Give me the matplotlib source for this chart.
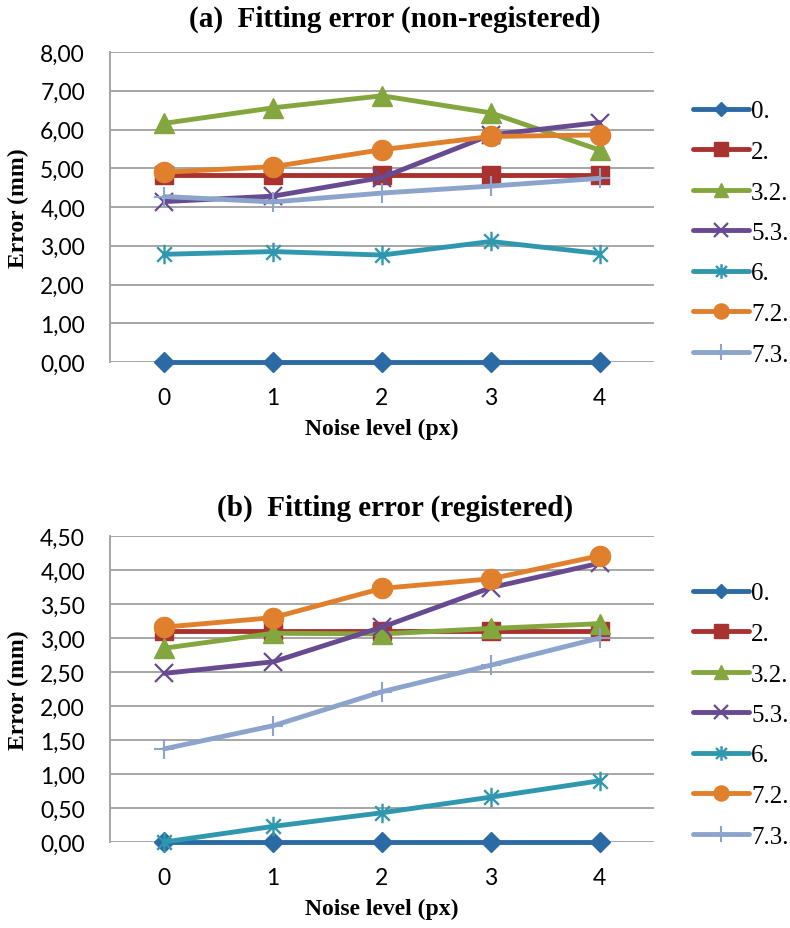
"""Fitting error vs. noise level, non-registered and registered."""

import matplotlib
matplotlib.use("Agg")
import matplotlib.pyplot as plt
from matplotlib.path import Path
from matplotlib.ticker import FuncFormatter

noise_levels = [0, 1, 2, 3, 4]
series_names = ["0.", "2.", "3.2.", "5.3.", "6.", "7.2.", "7.3."]

err_nonreg = {
    "0.": [0.00, 0.00, 0.00, 0.00, 0.00],
    "2.": [4.82, 4.82, 4.82, 4.82, 4.82],
    "3.2.": [6.16, 6.56, 6.87, 6.43, 5.47],
    "5.3.": [4.14, 4.28, 4.76, 5.86, 6.18],
    "6.": [2.78, 2.85, 2.76, 3.11, 2.80],
    "7.2.": [4.90, 5.04, 5.48, 5.82, 5.86],
    "7.3.": [4.27, 4.13, 4.36, 4.54, 4.74],
}

err_reg = {
    "0.": [0.00, 0.00, 0.00, 0.00, 0.00],
    "2.": [3.10, 3.10, 3.10, 3.10, 3.10],
    "3.2.": [2.85, 3.07, 3.06, 3.14, 3.21],
    "5.3.": [2.48, 2.65, 3.16, 3.74, 4.10],
    "6.": [0.00, 0.23, 0.43, 0.66, 0.90],
    "7.2.": [3.16, 3.30, 3.73, 3.87, 4.21],
    "7.3.": [1.37, 1.71, 2.21, 2.60, 3.00],
}

colors = ["#2C6AA4", "#A83230", "#84A63E", "#684A90", "#3098AE", "#E0802C", "#8CA4CC"]

# asterisk marker: vertical bar plus an X
star = Path(
    [(0, -1), (0, 1), (-0.75, -0.75), (0.75, 0.75), (-0.75, 0.75), (0.75, -0.75)],
    [Path.MOVETO, Path.LINETO, Path.MOVETO, Path.LINETO, Path.MOVETO, Path.LINETO],
)
marker_styles = [
    dict(marker="D", ms=10),
    dict(marker="s", ms=13.5),
    dict(marker="^", ms=14),
    dict(marker="x", ms=13, mew=1.6),
    dict(marker=star, ms=14, mew=1.7),
    dict(marker="o", ms=14.5),
    dict(marker="+", ms=15, mew=1.5),
]

serif = "Liberation Serif"
tick_font = "Lato"
grid_col = "#A6A6A6"

fig = plt.figure(figsize=(7.9, 9.29), dpi=100)
ax_a = fig.add_axes([110 / 790, 1 - 363 / 929, 544 / 790, 310 / 929])
ax_b = fig.add_axes([110 / 790, 1 - 843 / 929, 544 / 790, 306 / 929])

panels = [
    (ax_a, err_nonreg, 8.0, 1.0, "(a)  Fitting error (non-registered)", 19, 101),
    (ax_b, err_reg, 4.5, 0.5, "(b)  Fitting error (registered)", 508, 583),
]

comma_fmt = FuncFormatter(lambda v, _: f"{v:.2f}".replace(".", ","))

for ax, data, ymax, ystep, title, title_y, leg_top in panels:
    for name, col, ms in zip(series_names, colors, marker_styles):
        ax.plot(noise_levels, data[name], color=col, lw=3.5, label=name,
                mfc=col, mec=col, solid_capstyle="round", clip_on=False, **ms)

    ax.set_xlim(-0.5, 4.5)
    ax.set_ylim(0, ymax)
    ax.set_xticks(noise_levels)
    n = int(round(ymax / ystep))
    ax.set_yticks([i * ystep for i in range(n + 1)])
    ax.yaxis.set_major_formatter(comma_fmt)
    ax.grid(axis="y", color=grid_col, lw=1.4)
    ax.set_axisbelow(True)
    for side in ["top", "right", "bottom"]:
        ax.spines[side].set_visible(False)
    ax.spines["left"].set_color(grid_col)
    ax.spines["left"].set_linewidth(1.4)
    ax.tick_params(length=0, labelsize=16.5)
    ax.tick_params(axis="y", pad=18)
    ax.tick_params(axis="x", pad=18)
    for lbl in ax.get_xticklabels() + ax.get_yticklabels():
        lbl.set_fontfamily(tick_font)

    fig.text(0.5, 1 - title_y / 929, title, ha="center", va="center",
             fontfamily=serif, fontweight="bold", fontsize=21)
    ax.set_xlabel("Noise level (px)", fontfamily=serif, fontweight="bold",
                  fontsize=17, labelpad=7)
    ax.set_ylabel("Error (mm)", fontfamily=serif, fontweight="bold", fontsize=17)
    ax.yaxis.set_label_coords(-0.148, 0.5)

    ax.legend(loc="upper left", bbox_to_anchor=(693 / 790, 1 - leg_top / 929),
              bbox_transform=fig.transFigure, frameon=False,
              prop={"family": serif, "size": 18}, handlelength=2.25,
              handletextpad=0.08, labelspacing=0.72, markerscale=0.75,
              borderaxespad=0, borderpad=0)

fig.savefig("out.png", dpi=100)
